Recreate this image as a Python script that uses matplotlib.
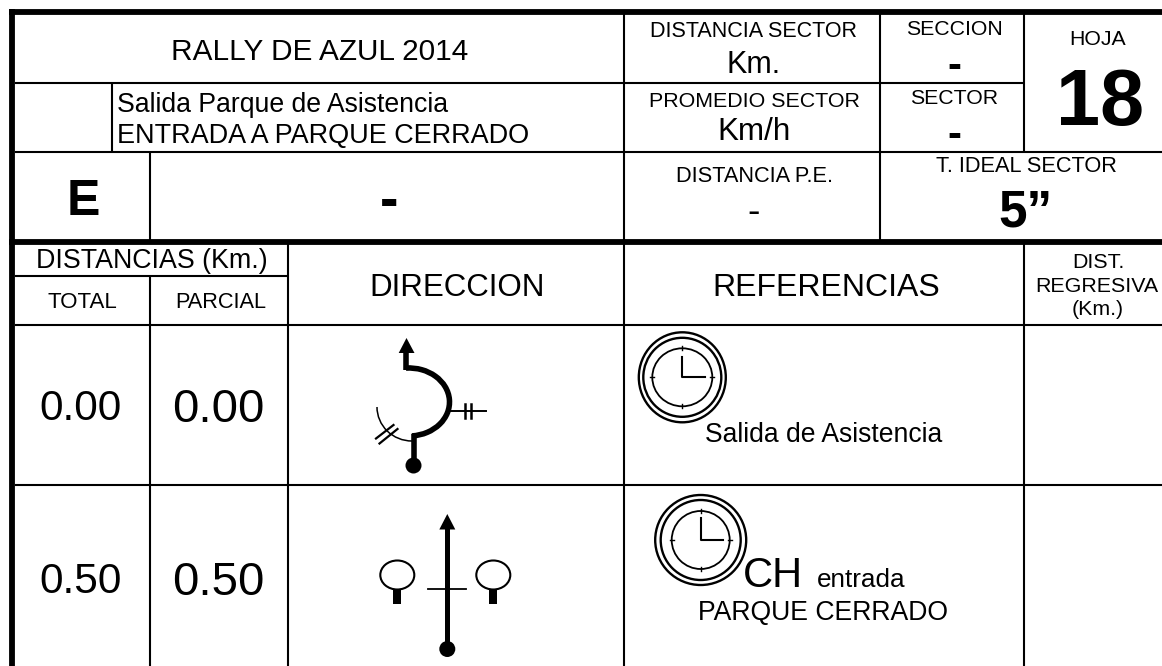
import matplotlib
matplotlib.use("Agg")
import matplotlib.pyplot as plt
from matplotlib.patches import Arc, Circle, Ellipse, Polygon, Rectangle

plt.rcParams["font.family"] = ["Liberation Sans", "DejaVu Sans"]

RALLY_TITLE = "RALLY DE AZUL 2014"
ROUTE_LINES = ["Salida Parque de Asistencia", "ENTRADA A PARQUE CERRADO"]
ROUTE_SIZES = [19.2, 19.45]
SHEET_NUMBER = "18"
IDEAL_TIME = "5”"
TOTAL_KM = ["0.00", "0.50"]
PARTIAL_KM = ["0.00", "0.50"]
TOTAL_BASELINES = [420, 593]
PARTIAL_BASELINES = [422, 595]

# x, baseline y, text, size, weight
HEADER_TEXTS = [
    (320, 59.5, RALLY_TITLE, 21.4, "normal"),
    (754, 37, "DISTANCIA SECTOR", 15.5, "normal"),
    (753.5, 73, "Km.", 22, "normal"),
    (754, 107, "PROMEDIO SECTOR", 15.4, "normal"),
    (754, 140.5, "Km/h", 22.6, "normal"),
    (954, 35, "SECCION", 15.3, "normal"),
    (954, 78, "-", 30, "bold"),
    (954, 104, "SECTOR", 15.3, "normal"),
    (954, 146.5, "-", 30, "bold"),
    (1098, 45, "HOJA", 15.3, "normal"),
    (1100, 125, SHEET_NUMBER, 57, "bold"),
    (83, 215, "E", 36, "bold"),
    (389, 217, "-", 40, "bold"),
    (754, 182, "DISTANCIA P.E.", 15.7, "normal"),
    (754, 223, "-", 27, "normal"),
    (1026, 172, "T. IDEAL SECTOR", 15.7, "normal"),
    (1026, 226.5, IDEAL_TIME, 37, "bold"),
    (151.5, 268.5, "DISTANCIAS (Km.)", 19.3, "normal"),
    (82.5, 308, "TOTAL", 16, "normal"),
    (221, 308, "PARCIAL", 15.7, "normal"),
    (457.5, 296, "DIRECCION", 22.5, "normal"),
    (826.5, 296, "REFERENCIAS", 23, "normal"),
    (1098, 268, "DIST.", 15.4, "normal"),
    (1097, 292, "REGRESIVA", 15.4, "normal"),
    (1098, 315, "(Km.)", 15.4, "normal"),
    (823.5, 442, "Salida de Asistencia", 19.1, "normal"),
    (823.5, 620, "PARQUE CERRADO", 19.2, "normal"),
]


def draw_grid(axis):
    thick = 4.2
    thin = 1.5
    # outer frame and the heavy separator
    axis.plot([9, 1162], [11.5, 11.5], color="black", lw=thick, solid_capstyle="butt")
    axis.plot([12, 12], [9, 666], color="black", lw=thick, solid_capstyle="butt")
    axis.plot([9, 1162], [242, 242], color="black", lw=thick, solid_capstyle="butt")
    segments = [
        ([15, 1024], [82.5, 82.5]),
        ([15, 1162], [152, 152]),
        ([15, 288], [275.5, 275.5]),
        ([15, 1162], [324.5, 324.5]),
        ([15, 1162], [485, 485]),
        ([112, 112], [82, 152]),
        ([150, 150], [152, 240]),
        ([150, 150], [275, 666]),
        ([288, 288], [244, 666]),
        ([624, 624], [14, 666]),
        ([880, 880], [14, 240]),
        ([1024, 1024], [14, 152]),
        ([1024, 1024], [244, 666]),
    ]
    for xs, ys in segments:
        axis.plot(xs, ys, color="black", lw=thin, solid_capstyle="butt")


def draw_clock(axis, cx, cy, outer, ring, face, hand_up, hand_right):
    for rx, ry in [outer, ring]:
        axis.add_patch(Ellipse((cx, cy), rx * 2, ry * 2, fill=False, ec="black", lw=1.7))
    rx, ry = face
    axis.add_patch(Ellipse((cx, cy), rx * 2, ry * 2, fill=False, ec="black", lw=1.3))
    axis.plot([cx, cx, hand_right], [hand_up, cy, cy], color="black", lw=1.5)
    tick = 2
    axis.plot([cx, cx], [cy - ry - tick, cy - ry + tick], color="black", lw=1)
    axis.plot([cx, cx], [cy + ry - tick, cy + ry + tick], color="black", lw=1)
    axis.plot([cx - rx - tick, cx - rx + tick], [cy, cy], color="black", lw=1)
    axis.plot([cx + rx - tick, cx + rx + tick], [cy, cy], color="black", lw=1)


def draw_turn_symbol(axis):
    axis.add_patch(Polygon([(406.5, 338), (398.7, 353), (414.5, 353)], fc="black", ec="none"))
    axis.plot([406, 406], [352, 370], color="black", lw=4, solid_capstyle="butt")
    axis.add_patch(Arc((409, 402), 81, 68, theta1=-95, theta2=85, ec="black", lw=4))
    axis.plot([413.5, 413.5], [434, 462], color="black", lw=4, solid_capstyle="butt")
    axis.add_patch(Circle((413.5, 465.5), 8, fc="black", ec="none"))
    axis.plot([450, 486], [410.5, 410.5], color="black", lw=1.4)
    axis.plot([465, 465], [404, 418], color="black", lw=1.8)
    axis.plot([471, 471], [404, 418], color="black", lw=1.8)
    axis.add_patch(Arc((412, 407), 70, 68, theta1=90, theta2=180, ec="black", lw=1.1))
    axis.plot([376, 393.5], [438.5, 425], color="black", lw=1.6)
    axis.plot([379.5, 397.5], [443.5, 429], color="black", lw=1.6)


def draw_straight_symbol(axis):
    axis.add_patch(Polygon([(447.3, 514), (439.3, 529.5), (455.3, 529.5)], fc="black", ec="none"))
    axis.plot([447.3, 447.3], [528, 648], color="black", lw=3.6, solid_capstyle="butt")
    axis.add_patch(Circle((447.3, 649), 8, fc="black", ec="none"))
    axis.plot([428, 466], [589, 589], color="black", lw=1.3)
    for cx in [397.3, 493.3]:
        axis.add_patch(Ellipse((cx, 575), 34, 29, fill=False, ec="black", lw=1.5))
        axis.add_patch(Rectangle((cx - 4, 589.5), 8, 14.5, fc="black", ec="none"))


def main():
    figure = plt.figure(figsize=(11.62, 6.66), dpi=100, facecolor="white")
    axis = figure.add_axes([0, 0, 1, 1])
    axis.set_xlim(0, 1162)
    axis.set_ylim(666, 0)
    axis.axis("off")

    draw_grid(axis)
    for x, y, label, size, weight in HEADER_TEXTS:
        axis.text(x, y, label, ha="center", va="baseline", fontsize=size, fontweight=weight)
    for line, size, y in zip(ROUTE_LINES, ROUTE_SIZES, [112, 143]):
        axis.text(117, y, line, ha="left", va="baseline", fontsize=size)
    for value, y in zip(TOTAL_KM, TOTAL_BASELINES):
        axis.text(80.5, y, value, ha="center", va="baseline", fontsize=30.5)
    for value, y in zip(PARTIAL_KM, PARTIAL_BASELINES):
        axis.text(218, y, value, ha="center", va="baseline", fontsize=34)
    axis.text(743, 587, "CH", ha="left", va="baseline", fontsize=30)
    axis.text(817, 587, "entrada", ha="left", va="baseline", fontsize=18.8)

    draw_turn_symbol(axis)
    draw_straight_symbol(axis)
    draw_clock(axis, 682.3, 377.3, (43.5, 45), (39, 39.5), (30, 29), 356.7, 705)
    draw_clock(axis, 700.7, 540, (45.5, 45), (40, 40), (29, 29), 518, 723)

    figure.savefig("out.png", dpi=100)
    plt.close(figure)


if __name__ == "__main__":
    main()
